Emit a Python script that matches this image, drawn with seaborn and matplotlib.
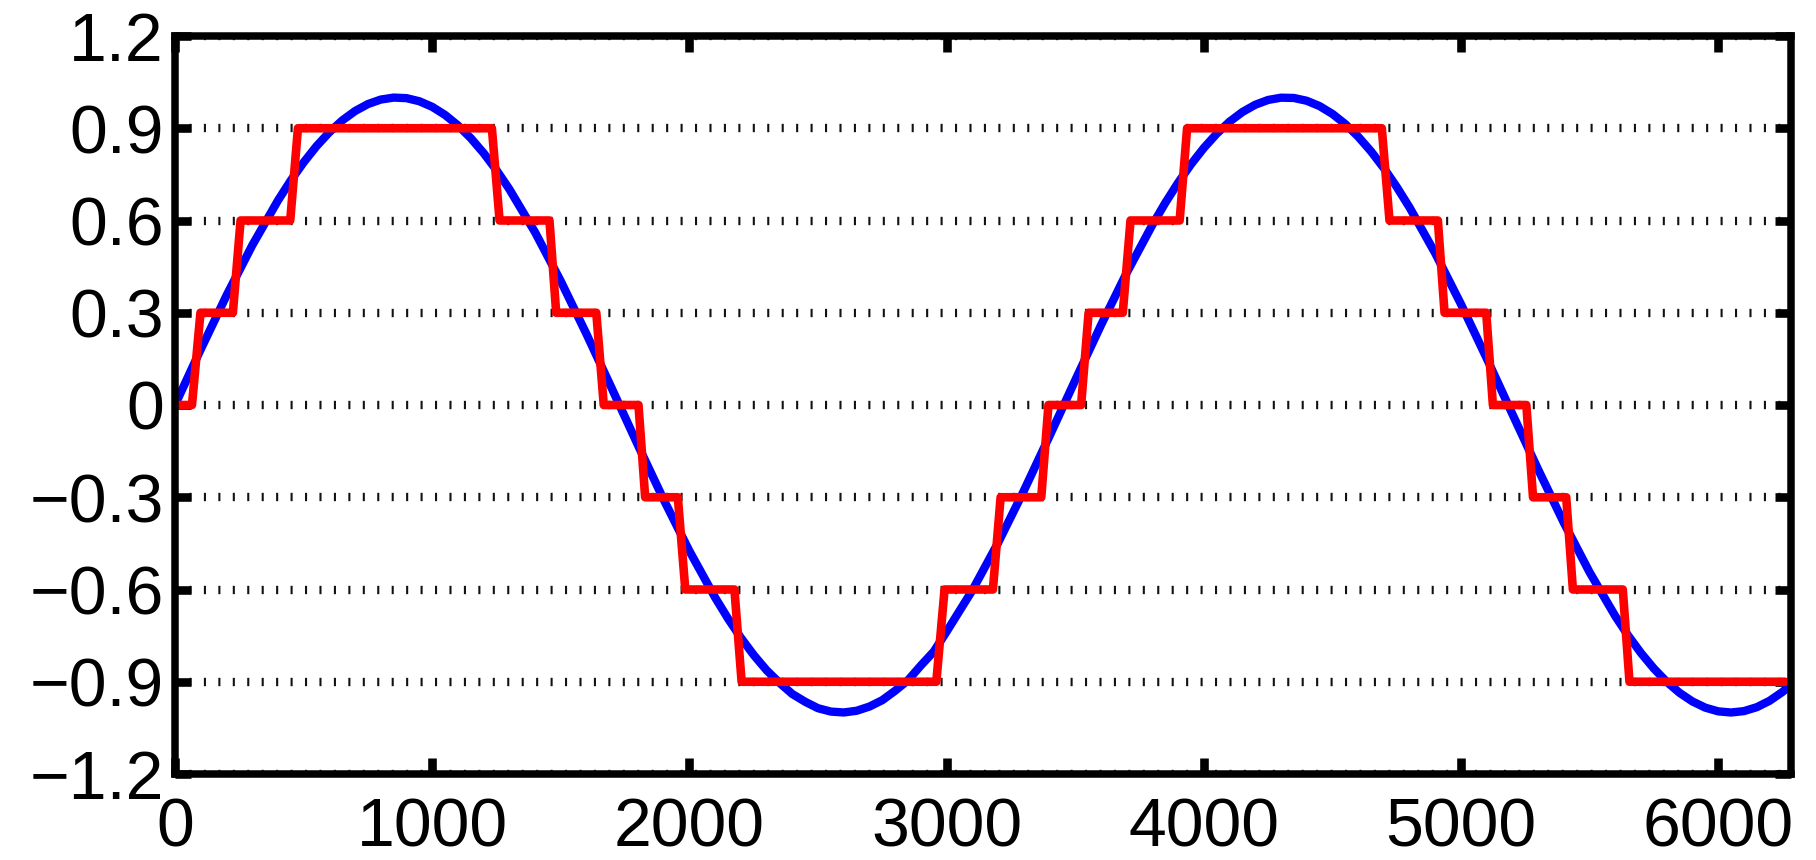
import matplotlib
matplotlib.use("Agg")
import matplotlib.pyplot as plt
import pandas as pd
import seaborn as sns

# Continuous signal: sample index and amplitude (denser around the extremes)
signal_x = [
    0, 100, 200, 300, 400, 450, 500, 550, 600, 650, 700, 750, 800, 850, 900, 950,
    1000, 1050, 1100, 1150, 1200, 1250, 1300, 1400, 1500, 1600, 1700, 1800, 1900, 2000,
    2100, 2150, 2200, 2250, 2300, 2350, 2400, 2450, 2500, 2550, 2600, 2650, 2700, 2750,
    2800, 2850, 2900, 2950, 3000, 3100, 3200, 3300, 3400, 3500, 3600, 3700, 3800, 3850,
    3900, 3950, 4000, 4050, 4100, 4150, 4200, 4250, 4300, 4350, 4400, 4450, 4500, 4550,
    4600, 4650, 4700, 4750, 4800, 4900, 5000, 5100, 5200, 5300, 5400, 5500, 5600, 5650,
    5700, 5750, 5800, 5850, 5900, 5950, 6000, 6050, 6100, 6150, 6200, 6250, 6283,
]
signal_y = [
    0.0, 0.1808, 0.3557, 0.5188, 0.6648, 0.7299, 0.7889, 0.8415, 0.8870, 0.9253, 0.9559,
    0.9786, 0.9933, 0.9997, 0.9979, 0.9878,
    0.9696, 0.9433, 0.9093, 0.8678, 0.8191, 0.7636, 0.7018, 0.5615, 0.4026, 0.2304, 0.0507,
    -0.1308, -0.3079, -0.4748,
    -0.6261, -0.6944, -0.7568, -0.8130, -0.8625, -0.9034, -0.9398, -0.9651, -0.9861, -0.9970,
    -0.9999, -0.9944, -0.9807, -0.9599,
    -0.9292, -0.8951, -0.8471, -0.8019, -0.7370, -0.6027, -0.4484, -0.2794, -0.1012, 0.0804,
    0.2593, 0.4296, 0.5858, 0.6570,
    0.7227, 0.7825, 0.8358, 0.8822, 0.9213, 0.9528, 0.9764, 0.9920, 0.9994, 0.9985, 0.9894,
    0.9721, 0.9467, 0.9136,
    0.8729, 0.8250, 0.7703, 0.7092, 0.6423, 0.4931, 0.3277, 0.1515, -0.0298, -0.2100, -0.3833,
    -0.5440, -0.6868, -0.7499,
    -0.8069, -0.8572, -0.9004, -0.9362, -0.9642, -0.9843, -0.9963, -1.0000, -0.9955, -0.9827,
    -0.9618, -0.9330, -0.9098,
]

# Quantized signal (step 0.3): vertices of the staircase
quant_x = [
    0, 66, 99, 225, 255, 448, 478, 1232, 1262, 1456, 1482, 1638, 1667, 1802, 1828,
    1955, 1984, 2175, 2203, 2960, 2992, 3180, 3210, 3368, 3396, 3523, 3552, 3685, 3715,
    3906, 3935, 4692, 4722, 4910, 4936, 5098, 5124, 5254, 5280, 5409, 5435, 5629, 5655, 6260,
]
quant_y = [
    0.0, 0.0, 0.3, 0.3, 0.6, 0.6, 0.9, 0.9, 0.6, 0.6, 0.3, 0.3, 0.0, 0.0, -0.3,
    -0.3, -0.6, -0.6, -0.9, -0.9, -0.6, -0.6, -0.3, -0.3, 0.0, 0.0, 0.3, 0.3, 0.6,
    0.6, 0.9, 0.9, 0.6, 0.6, 0.3, 0.3, 0.0, 0.0, -0.3, -0.3, -0.6, -0.6, -0.9, -0.9,
]

x_ticks = [0, 1000, 2000, 3000, 4000, 5000, 6000]
x_tick_labels = ["0", "1000", "2000", "3000", "4000", "5000", "6000"]
y_ticks = [-1.2, -0.9, -0.6, -0.3, 0.0, 0.3, 0.6, 0.9, 1.2]
y_tick_labels = ["\u22121.2", "\u22120.9", "\u22120.6", "\u22120.3", "0", "0.3", "0.6", "0.9", "1.2"]

sns.set_theme(style="white")
plt.rcParams["font.family"] = ["Liberation Sans", "DejaVu Sans"]
plt.rcParams["lines.scale_dashes"] = False
plt.rcParams["axes.axisbelow"] = True

W, H = 1816, 860
fig = plt.figure(figsize=(W / 100, H / 100), dpi=100)
fig.patch.set_facecolor("white")
ax = fig.add_axes([175 / W, 1 - 774 / H, (1791 - 175) / W, (774 - 36) / H])
ax.set_facecolor("white")

sig = pd.DataFrame({"n": signal_x, "value": signal_y})
qnt = pd.DataFrame({"n": quant_x, "value": quant_y})

sns.lineplot(data=sig, x="n", y="value", color=(0, 0, 1), linewidth=6.0,
             sort=False, estimator=None, ax=ax, zorder=3)
sns.lineplot(data=qnt, x="n", y="value", color=(1, 0, 0), linewidth=6.2,
             sort=False, estimator=None, ax=ax, zorder=4)

ax.set_xlim(0, 6283)
ax.set_ylim(-1.2, 1.2)
ax.set_xticks(x_ticks)
ax.set_xticklabels(x_tick_labels)
ax.set_yticks(y_ticks)
ax.set_yticklabels(y_tick_labels)
ax.set_xlabel("")
ax.set_ylabel("")

# Dotted horizontal grid
ax.yaxis.grid(True, color="#111111", linewidth=6.0, linestyle=(0, (1.5, 8.9)))
ax.xaxis.grid(False)

for side in ["left", "right", "top", "bottom"]:
    ax.spines[side].set_visible(True)
    ax.spines[side].set_color("black")
    ax.spines[side].set_linewidth(5.4)
    ax.spines[side].set_zorder(5)

ax.tick_params(axis="both", which="major", direction="in", length=11.5, width=6.2,
               color="black", top=True, right=True, bottom=True, left=True,
               labelsize=49, labelcolor="black")
ax.tick_params(axis="x", pad=16)
ax.tick_params(axis="y", pad=8)

fig.savefig("out.png", dpi=100, facecolor="white")
